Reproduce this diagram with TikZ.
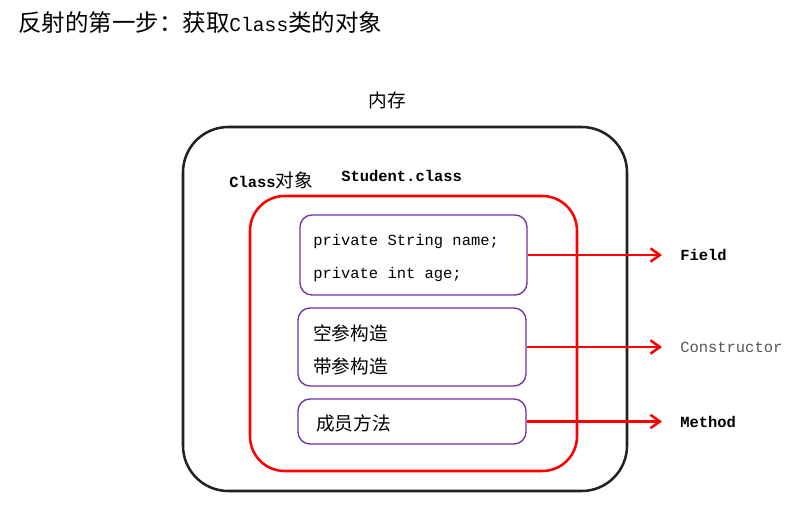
\documentclass[tikz,border=0pt]{standalone}
\usepackage{fontspec}
\setmonofont{Liberation Mono}
\newfontfamily\cjk{Noto Sans CJK SC}
\usepackage{tikz}
\usetikzlibrary{arrows.meta}
\definecolor{boxpurple}{RGB}{112,48,160}
\definecolor{framegray}{RGB}{34,34,34}
\definecolor{labelgray}{RGB}{85,85,85}
\tikzset{
  txt/.style={anchor=west, inner sep=0pt},
  cn/.style={txt, font=\fontsize{14}{16}\selectfont\cjk},
  mono/.style={txt, font=\fontsize{11.6}{14}\selectfont\ttfamily},
  member/.style={draw=boxpurple, line width=1pt, rounded corners=9pt},
  toarrow/.style={draw=red, line width=1.9pt, -{Straight Barb[length=7pt,width=10pt]}, shorten >=13.5pt}
}

\begin{document}
\begin{tikzpicture}[x=0.75pt, y=-0.75pt]
        \useasboundingbox (0,0) rectangle (802,514);
        \node (title) at (18, 23) [txt, font=\fontsize{17.6}{20}\selectfont\cjk] {反射的第一步：获取{\fontsize{14.7}{20}\selectfont\ttfamily Class}类的对象};
        \node (mem) at (387, 100) [font=\fontsize{14}{16}\selectfont\cjk] {内存};
        \node (heap) at (405, 309) [draw=framegray, line width=1.9pt, rounded corners=34pt, minimum width=333pt, minimum height=273pt] {};
        \node (cls) at (413.5, 333.5) [draw=red, line width=1.9pt, rounded corners=26pt, minimum width=245.25pt, minimum height=206.25pt] {};
        \node (clslabel) at (229, 180) [txt] {{\fontsize{11.6}{14}\selectfont\ttfamily\bfseries Class}{\fontsize{14}{16}\selectfont\cjk 对象}};
        \node (clsname) at (341, 176) [mono, font=\fontsize{11.6}{14}\selectfont\ttfamily\bfseries] {Student.class};
        \node (fields) at (413.5, 255) [member, minimum width=170.25pt, minimum height=60pt] {};
        \node (ctors) at (412, 347) [member, minimum width=171pt, minimum height=58.5pt] {};
        \node (methods) at (412, 421.5) [member, minimum width=171pt, minimum height=33.75pt] {};
        \node (f1) at (313, 241) [mono] {private String name;};
        \node (f2) at (313, 274) [mono] {private int age;};
        \node (c1) at (313, 333) [cn] {空参构造};
        \node (c2) at (313, 366) [cn] {带参构造};
        \node (m1) at (316, 423) [cn] {成员方法};
        \node (field) at (680, 255) [mono, font=\fontsize{11.6}{14}\selectfont\ttfamily\bfseries] {Field};
        \node (ctor) at (680, 347) [mono, text=labelgray] {Constructor};
        \node (method) at (680, 421.5) [mono, font=\fontsize{11.6}{14}\selectfont\ttfamily\bfseries] {Method};
        \draw [toarrow] (fields.east) -- (field.west);
        \draw [toarrow] (ctors.east) -- (ctor.west);
        \draw [toarrow] (methods.east) -- (method.west);
    \end{tikzpicture}
\end{document}
